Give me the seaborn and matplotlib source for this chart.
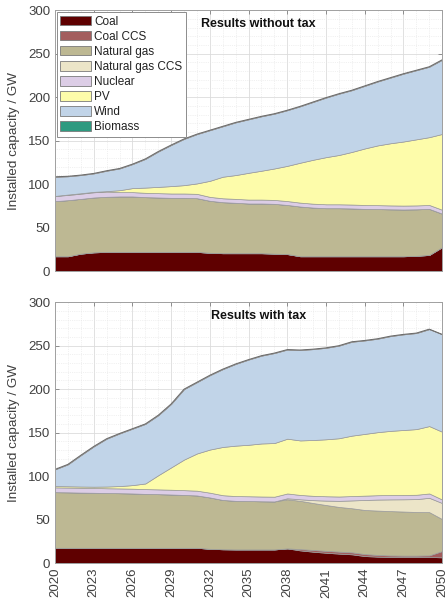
import numpy as np
import matplotlib
matplotlib.use("Agg")
import matplotlib.pyplot as plt
from matplotlib.ticker import MultipleLocator
import seaborn as sns

years = list(range(2020, 2051))

technologies = ["Coal", "Coal CCS", "Natural gas", "Natural gas CCS",
                "Nuclear", "PV", "Wind", "Biomass"]
tech_colors = ["#5f0000", "#a35d5d", "#bdb893", "#ece5c8",
               "#dccde6", "#fdfcaa", "#c1d4e8", "#2e9a80"]

# Installed capacity (GW) without tax
coal_nt = [17, 17, 20, 21.5, 22, 22, 22, 22, 22, 22, 22, 22,
           21, 20.5, 20.5, 20.5, 20.5, 20, 19.5,
           17, 17, 17, 17, 17, 17, 17, 17, 17, 17.5, 18.5, 27.5]
coal_ccs_nt = [0] * 31
gas_nt = [63.4, 64.5, 63, 63.1, 63.4, 63.8, 63.8, 63, 62.6, 62.2, 62.2, 61.8,
          59.8, 58.7, 58, 57.2, 57.2, 57.3, 56.5,
          57.2, 56, 55.3, 55.3, 55, 54.5, 54.3, 54, 53.8, 53.5, 53, 38.5]
gas_ccs_nt = [0] * 31
nuclear_nt = [6, 6, 6, 6, 6, 5, 5, 5, 5, 5, 5, 5] + [4.5] * 19
pv_nt = [0, 0.5, 0.5, 0.5, 0.5, 2.2, 4.6, 6, 7.2, 8.5, 9.6, 12,
         18.5, 24.8, 27.4, 30.8, 33.2, 36.2, 40.5, 45.9, 50.5, 54.2, 56.7,
         60.5, 65, 68.7, 71.5, 73.7, 76, 78, 87.2]
wind_nt = [22, 21, 20.9, 21.2, 23.5, 25, 27.6, 33, 40.7, 47.3, 53.2, 56.7,
           58.2, 58, 60.6, 61.5, 62.6, 63, 64, 64.9, 66.5, 68.5, 70.5, 71,
           72, 73.5, 75.5, 78, 79.5, 81, 85.3]
biomass_nt = [0] * 31

# Installed capacity (GW) with tax
coal_t = [17.5] * 12 + [16.3, 15.8, 15.6, 15.6, 15.6, 15.6, 16.8,
                        14.5, 13, 11.8, 10.8, 10, 8, 7.3, 7, 7, 7, 7, 6.5]
coal_ccs_t = [0] * 19 + [1.5, 2, 2.2, 2.3, 2.3, 2.3, 2, 1.7, 1.5, 1.5, 1.8, 7.3]
gas_t = [64, 63.8, 63.5, 63.3, 63, 62.8, 62.5, 62, 61.7, 61.3, 60.8, 60.2,
         59.1, 56.7, 55.9, 55.7, 55.4, 55.2, 56.5,
         55.5, 54, 52.7, 51.4, 50.7, 50.7, 51, 51, 50.7, 50.2, 49.7, 36.7]
gas_ccs_t = [0] * 18 + [1.2, 1.8, 3.3, 5.1, 7, 9, 11.5, 12.7, 13.5, 14.1,
                        14.8, 16.5, 18.5]
nuclear_t = [5.5] * 19 + [5] * 11 + [4]
pv_t = [1.5, 1.5, 1.5, 1.5, 2, 2.7, 4.1, 6.5, 16.3, 25.7, 35.2, 42.8,
        49.6, 55.5, 58, 59.2, 61, 61.7, 63, 62.7, 64.2, 65.5, 67, 69.5,
        71, 72.5, 73.8, 74.7, 75.5, 77.5, 78]
wind_t = [19.2, 25.2, 36, 46.3, 55, 60.5, 64.9, 68.5, 69, 73, 81, 82,
          85.5, 89.5, 94, 98, 101, 103.5, 102.5, 104, 104.5, 105.2, 106.5,
          108, 107.5, 107.5, 109, 110, 110.5, 111.5, 112]
biomass_t = [0] * 31

scenarios = [
    ("Results without tax",
     [coal_nt, coal_ccs_nt, gas_nt, gas_ccs_nt, nuclear_nt, pv_nt, wind_nt, biomass_nt]),
    ("Results with tax",
     [coal_t, coal_ccs_t, gas_t, gas_ccs_t, nuclear_t, pv_t, wind_t, biomass_t]),
]

sns.set_theme(style="white")
plt.rcParams["font.family"] = ["Liberation Sans", "DejaVu Sans"]
palette = sns.color_palette(tech_colors)

fig = plt.figure(figsize=(4.45, 6.01), dpi=100)
axes = [fig.add_axes([0.1236, 0.549, 0.870, 0.434]),
        fig.add_axes([0.1236, 0.0632, 0.870, 0.434])]

text_color = "#404040"
for i, (ax, (title, series)) in enumerate(zip(axes, scenarios)):
    ax.stackplot(years, *series, colors=palette, labels=technologies,
                 edgecolor="#9a9a9a", linewidth=0.5, zorder=2)
    # outline of the total capacity
    ax.plot(years, np.sum(np.array(series, dtype=float), axis=0),
            color="#6a6a6a", linewidth=0.7, zorder=3)
    ax.set_xlim(2020, 2050)
    ax.set_ylim(0, 300)
    ax.set_yticks(range(0, 301, 50))
    ax.set_xticks(range(2020, 2051, 3))
    ax.xaxis.set_minor_locator(MultipleLocator(1))
    ax.yaxis.set_minor_locator(MultipleLocator(10))
    ax.grid(which="major", color="#dcdcdc", linewidth=0.6, zorder=0)
    ax.grid(which="minor", color="#e4e4e4", linewidth=0.5, linestyle=":", zorder=0)
    ax.set_axisbelow(True)
    ax.tick_params(which="major", direction="in", length=3, width=0.6,
                   colors="#808080", labelcolor=text_color, labelsize=9.5,
                   top=True, right=True, bottom=True, left=True)
    ax.tick_params(which="minor", length=0)
    for sp in ax.spines.values():
        sp.set_color("#a0a0a0")
        sp.set_linewidth(0.7)
        sp.set_zorder(5)
    ax.set_ylabel("Installed capacity / GW", fontsize=9.7, color=text_color,
                  labelpad=6)
    ax.text(0.526, 0.946, title, transform=ax.transAxes, ha="center",
            va="center", fontsize=9, fontweight="bold", color="#111111", zorder=6)
    if i == 0:
        ax.tick_params(axis="x", labelbottom=False)
        leg = ax.legend(loc="upper left", fontsize=8.5, frameon=True,
                        fancybox=False, edgecolor="#8c8c8c", framealpha=1,
                        borderpad=0.3, labelspacing=0.26, handlelength=2.6,
                        handleheight=0.9, handletextpad=0.25,
                        borderaxespad=0.15)
        leg.get_frame().set_linewidth(0.7)
        for t in leg.get_texts():
            t.set_color("#222222")
        for h in leg.legend_handles:
            h.set_edgecolor("#7a7a7a")
            h.set_linewidth(0.6)
    else:
        ax.tick_params(axis="x", labelrotation=90)

fig.savefig("out.png", dpi=100)
